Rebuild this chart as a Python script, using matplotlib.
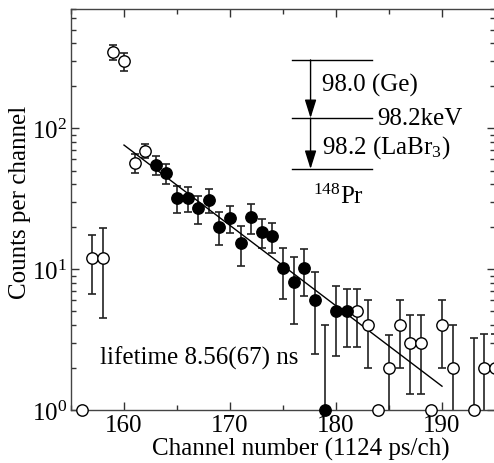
import numpy as np
import matplotlib
matplotlib.use("Agg")
import matplotlib.pyplot as plt
from matplotlib.ticker import MultipleLocator, LogLocator, NullFormatter

plt.rcParams['font.family'] = ['Liberation Serif', 'DejaVu Serif']
plt.rcParams['mathtext.fontset'] = 'custom'
plt.rcParams['mathtext.rm'] = 'Liberation Serif'
plt.rcParams['mathtext.it'] = 'Liberation Serif:italic'

# --- data ---
# open circles (outside the fit window)
open_ch = [156, 157, 158, 159, 160, 161, 162, 182, 183, 184, 185, 186,
           187, 188, 189, 190, 191, 193, 194, 195]
open_cnt = [1, 12, 12, 346, 299, 57, 69, 5.0, 4.0, 1, 2.0, 4.0,
            3.0, 3.0, 1, 4.0, 2.0, 1, 2.0, 2.0]
open_err = [0, 5.4, 7.5, 40, 43, 9, 8, 2.2, 2.0, 0, 1.4, 2.0,
            1.7, 1.7, 0, 2.0, 2.0, 2.24, 1.46, 1.46]

# filled circles (used in the fit)
fill_ch = [163, 164, 165, 166, 167, 168, 169, 170, 171, 172, 173, 174,
           175, 176, 177, 178, 179, 180, 181]
fill_cnt = [55, 48, 32, 32, 27, 31, 20, 23, 15.3, 23.4, 18.3, 17.1,
            10.1, 8.1, 10.1, 6.0, 1, 5.0, 5.0]
fill_err = [8.8, 8, 7, 6.5, 6, 6, 5.2, 5, 4.8, 5.7, 4.3, 4.1,
            4, 4, 3.7, 3.5, 3, 2.6, 2.2]

# exponential fit
lifetime_ns = 8.56
ps_per_ch = 1124
fit_start, fit_end = 160, 190
fit_amp = 75.8

FS = 18

fig = plt.figure(figsize=(4.94, 4.64), dpi=100)
ax = fig.add_axes([71 / 494, 53 / 464, 424 / 494, 401 / 464])

def draw(ch, cnt, err, face):
    ch = np.array(ch, float)
    cnt = np.array(cnt, float)
    err = np.array(err, float)
    has = err > 0
    lower = np.minimum(err, cnt - 0.05)
    ax.errorbar(ch[has], cnt[has], yerr=[lower[has], err[has]], fmt='none',
                ecolor='#222222', elinewidth=1.2, capsize=2.7, capthick=1.2,
                zorder=2)
    ax.plot(ch, cnt, 'o', ms=8.2, mfc=face, mec='black', mew=1.0,
            ls='none', clip_on=False, zorder=4)

draw(open_ch, open_cnt, open_err, 'white')
draw(fill_ch, fill_cnt, fill_err, 'black')

tau_ch = lifetime_ns * 1000 / ps_per_ch
fx = np.array([fit_start, fit_end], float)
fy = fit_amp * np.exp(-(fx - fit_start) / tau_ch)
ax.plot(fx, fy, color='black', lw=1.0, zorder=3)

ax.set_yscale('log')
ax.set_xlim(155, 195)
ax.set_ylim(1, 700)
ax.xaxis.set_major_locator(MultipleLocator(10))
ax.xaxis.set_minor_locator(MultipleLocator(5))
ax.yaxis.set_major_locator(LogLocator(base=10))
ax.yaxis.set_minor_locator(LogLocator(base=10, subs=np.arange(2, 10)))
ax.yaxis.set_minor_formatter(NullFormatter())
ax.tick_params(which='both', direction='in', top=True, right=True,
               labelsize=FS, color='#333333', width=1.0)
ax.tick_params(which='major', length=6, pad=3)
ax.tick_params(which='minor', length=3.5)
for s in ax.spines.values():
    s.set_linewidth(1.0)
    s.set_color('#444444')

ax.set_xlabel('Channel number (1124 ps/ch)', fontsize=FS)
ax.set_ylabel('Counts per channel', fontsize=FS)
ax.xaxis.set_label_coords(0.542, -0.067)
ax.yaxis.set_label_coords(-0.094, 0.521)

# level scheme
T = ax.transAxes
for yy in (0.873, 0.728, 0.601):
    ax.plot([0.522, 0.709], [yy, yy], color='black', lw=1.0, transform=T)
head = '-|>,head_length=0.7,head_width=0.22'
ax.annotate('', xy=(0.565, 0.728), xytext=(0.565, 0.873), xycoords=T,
            arrowprops=dict(arrowstyle=head, color='black', lw=1.0,
                            mutation_scale=16, shrinkA=0, shrinkB=0))
ax.annotate('', xy=(0.565, 0.601), xytext=(0.565, 0.728), xycoords=T,
            arrowprops=dict(arrowstyle=head, color='black', lw=1.0,
                            mutation_scale=16, shrinkA=0, shrinkB=0))
ax.text(0.593, 0.796, '98.0 (Ge)', transform=T, fontsize=FS, va='baseline')
ax.text(0.723, 0.713, '98.2keV', transform=T, fontsize=FS, va='baseline')
ax.text(0.593, 0.641, '98.2 (LaBr$_3$)', transform=T, fontsize=FS, va='baseline')
ax.text(0.570, 0.516, '$^{148}$Pr', transform=T, fontsize=FS, va='baseline')
ax.text(0.069, 0.115, 'lifetime 8.56(67) ns', transform=T, fontsize=FS,
        va='baseline')

fig.savefig('out.png', dpi=100)
